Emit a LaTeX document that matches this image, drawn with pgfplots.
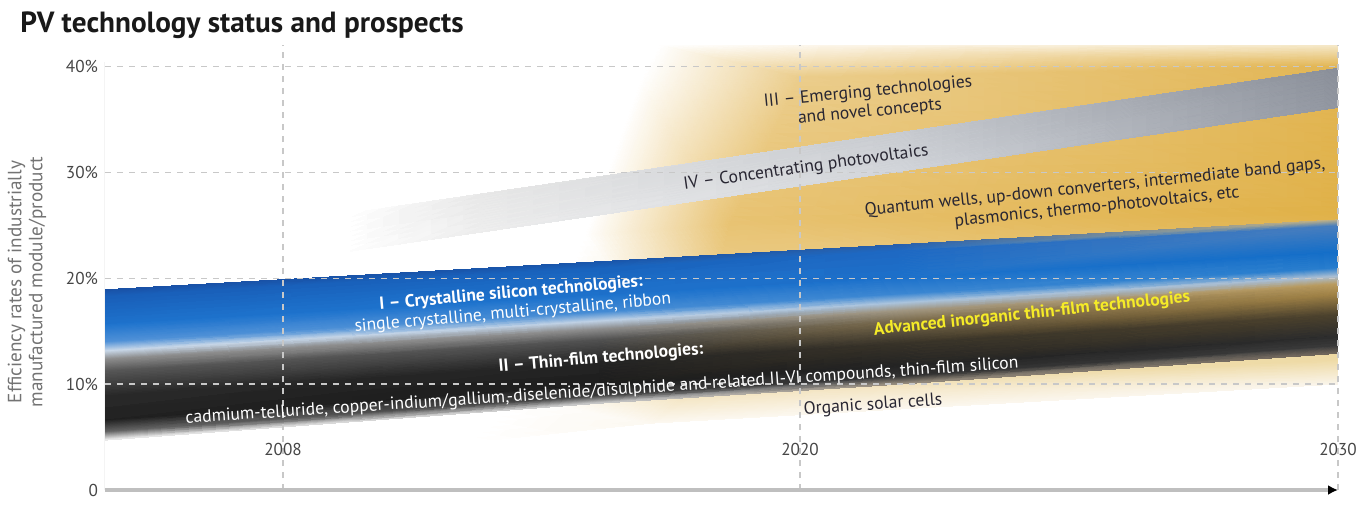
\documentclass[border=0pt]{standalone}
\usepackage{fontspec}
\setmainfont{PT Sans}
\usepackage{pgfplots}
\pgfplotsset{compat=1.18}
\usepgfplotslibrary{patchplots}
\usetikzlibrary{arrows.meta}
\definecolor{gridc}{RGB}{200,200,200}
\definecolor{tickc}{RGB}{70,70,70}
\definecolor{darktxt}{RGB}{40,38,50}
\definecolor{advy}{RGB}{245,235,40}
\newcommand\lbl{\fontsize{8.8}{10}\selectfont}
\begin{document}
\begin{tikzpicture}
\useasboundingbox (0,0) rectangle (678pt,258pt);
\node[anchor=base west, font=\bfseries\fontsize{14.6}{16}\selectfont, text=black!90, inner sep=0] at (10pt,242pt) {PV technology status and prospects};
\node[rotate=90, align=center, font=\fontsize{9.6}{10.6}\selectfont, text=black!55, inner sep=0] at (13.5pt,117pt) {Efficiency rates of industrially\\manufactured module/product};
\begin{axis}[
  at={(52.5pt,13pt)}, anchor=south west,
  width=616.5pt, height=222.5pt, scale only axis,
  xmin=105, xmax=1338, ymin=0, ymax=42,
  axis x line=bottom, axis y line=left,
  x axis line style={draw=black!25, line width=1.6pt, -{Latex[length=5pt,width=5pt,color=black]}},
  y axis line style={draw=none},
  xtick={283,800,1338}, xticklabels={2008,2020,2030},
  ytick={0,10,20,30,40}, yticklabels={0,10\%,20\%,30\%,40\%},
  major tick length=0pt,
  grid=major,
  major grid style={draw=gridc, dash pattern=on 3pt off 3pt, line width=0.6pt},
  ticklabel style={font=\fontsize{8.6}{10}\selectfont, text=tickc},
  xticklabel style={anchor=south, yshift=13.5pt},
  axis on top,
]
% III - emerging technologies background (gold region)
\addplot[patch, patch type=rectangle, mesh input=lattice, mesh/cols=3, shader=interp,
  mesh/color input=explicit, point meta=explicit symbolic] table[meta=c] {
x y c
470 4.5 rgb255=255,255,255
650 6.3 rgb255=252,248,240
1338 10.0 rgb255=250,245,235
520 8.5 rgb255=255,255,255
690 9.3 rgb255=242,225,185
1338 12.3 rgb255=238,218,165
585 24 rgb255=255,255,255
730 25 rgb255=232,195,115
1338 26 rgb255=224,177,72
640 38.5 rgb255=255,255,255
800 39 rgb255=235,205,140
1338 40 rgb255=226,182,85
660 42 rgb255=255,255,255
820 42 rgb255=252,246,235
1338 42 rgb255=245,232,200
};
% IV - concentrating photovoltaics
\addplot[patch, patch type=rectangle, mesh input=lattice, mesh/cols=4, shader=interp,
  mesh/color input=explicit, point meta=explicit symbolic] table[meta=c] {
x y c
350 26.13 rgb255=255,255,255
480 27.93 rgb255=232,232,232
900 33.74 rgb255=200,203,208
1338 39.8 rgb255=138,143,153
350 22.53 rgb255=255,255,255
480 24.32 rgb255=238,238,238
900 30.08 rgb255=210,213,218
1338 36.1 rgb255=145,150,160
};
% I - crystalline silicon
\addplot[patch, patch type=rectangle, mesh input=lattice, mesh/cols=4, shader=interp,
  mesh/color input=explicit, point meta=explicit symbolic] table[meta=c] {
x y c
105 18.9 rgb255=25,80,165
600 21.55 rgb255=25,85,170
900 23.16 rgb255=40,95,170
1338 25.5 rgb255=200,180,130
105 18.24 rgb255=25,95,185
600 20.91 rgb255=25,100,190
900 22.53 rgb255=30,105,195
1338 24.89 rgb255=70,125,190
105 15.6 rgb255=30,115,205
600 18.35 rgb255=30,115,205
900 20.02 rgb255=28,113,203
1338 22.45 rgb255=20,110,200
105 13.95 rgb255=80,145,215
600 16.75 rgb255=70,140,212
900 18.45 rgb255=60,135,210
1338 20.93 rgb255=40,125,205
105 13.09 rgb255=200,215,232
600 15.92 rgb255=190,208,228
900 17.63 rgb255=170,195,220
1338 20.13 rgb255=170,190,210
105 12.3 rgb255=140,140,140
600 15.15 rgb255=140,140,140
900 16.88 rgb255=160,150,130
1338 19.4 rgb255=185,155,95
};
% II - thin film
\addplot[patch, patch type=rectangle, mesh input=lattice, mesh/cols=4, shader=interp,
  mesh/color input=explicit, point meta=explicit symbolic] table[meta=c] {
x y c
105 12.3 rgb255=140,140,140
600 15.15 rgb255=140,140,140
900 16.88 rgb255=160,150,130
1338 19.4 rgb255=185,155,95
105 11.16 rgb255=85,85,85
600 14.11 rgb255=80,80,80
900 15.85 rgb255=120,105,75
1338 18.43 rgb255=160,130,70
105 8.88 rgb255=40,40,40
600 12.02 rgb255=35,35,35
900 13.78 rgb255=55,50,40
1338 16.48 rgb255=75,65,45
105 6.6 rgb255=30,30,30
600 9.93 rgb255=28,28,28
900 11.71 rgb255=35,35,35
1338 14.53 rgb255=45,45,45
105 5.46 rgb255=100,100,100
600 8.89 rgb255=60,60,60
900 10.68 rgb255=50,50,50
1338 13.55 rgb255=60,60,60
105 4.7 rgb255=235,235,235
600 8.19 rgb255=200,200,200
900 9.99 rgb255=150,140,125
1338 12.9 rgb255=110,100,90
};
\draw[black!35, line width=0.5pt] (axis cs:105,0) -- (axis cs:105,40.4);
% label anchors
\coordinate (tIII) at (axis cs:869,36.6);
\coordinate (tIV) at (axis cs:806,30.4);
\coordinate (tQW) at (axis cs:1096,27.6);
\coordinate (tI) at (axis cs:512,17.6);
\coordinate (tII) at (axis cs:601,12.4);
\coordinate (tCd) at (axis cs:602,9.3);
\coordinate (tAd) at (axis cs:1032,16.6);
\coordinate (tOr) at (axis cs:873,8.0);
\end{axis}
\node[rotate=5.5, align=center, text=darktxt, font=\lbl] at (tIII) {III – Emerging technologies\\and novel concepts};
\node[rotate=8, text=darktxt, font=\lbl] at (tIV) {IV – Concentrating photovoltaics};
\node[rotate=5.8, align=center, text=darktxt, font=\lbl] at (tQW) {Quantum wells, up-down converters, intermediate band gaps,\\plasmonics, thermo-photovoltaics, etc};
\node[rotate=5, align=center, text=white, font=\lbl] at (tI) {\textbf{I – Crystalline silicon technologies:}\\single crystalline, multi-crystalline, ribbon};
\node[rotate=5, text=white, font=\lbl\bfseries] at (tII) {II – Thin-film technologies:};
\node[rotate=3.8, text=white, font=\lbl] at (tCd) {cadmium-telluride, copper-indium/gallium,-diselenide/disulphide and related II-VI compounds, thin-film silicon};
\node[rotate=6, text=advy, font=\lbl\bfseries] at (tAd) {Advanced inorganic thin-film technologies};
\node[rotate=4, text=darktxt, font=\lbl] at (tOr) {Organic solar cells};
\end{tikzpicture}
\end{document}
